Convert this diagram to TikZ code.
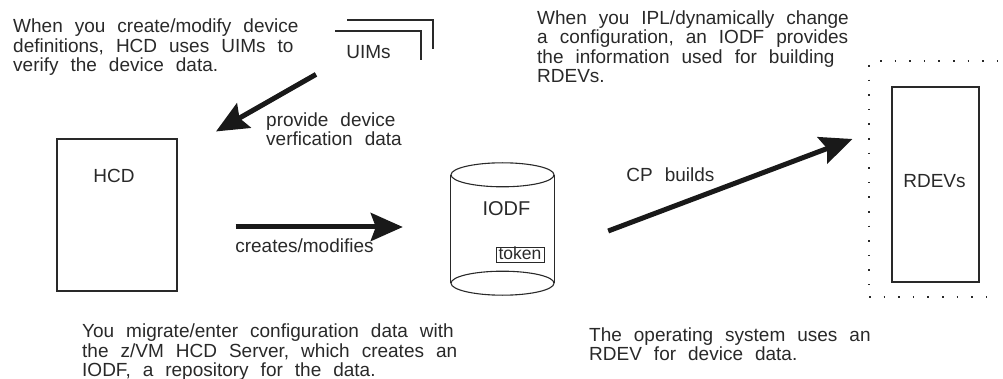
\documentclass[tikz,border=0pt]{standalone}
\usepackage{fontspec}
\setmainfont{Liberation Sans}
\usetikzlibrary{arrows.meta}
\definecolor{inkgray}{gray}{0.16}
\newcommand{\labelfont}{\fontsize{19}{19.4}\selectfont\spaceskip=12pt\relax}
\tikzset{
	box/.style={draw=inkgray, rectangle, line width=1.1pt, inner sep=0pt},
	txt/.style={anchor=base, inner sep=0pt, text=inkgray, font=\labelfont},
	note/.style={anchor=north west, inner sep=0pt, align=left, text=inkgray, font=\labelfont},
	bigarrow/.style={-{Stealth[length=32pt, width=28pt, inset=5pt]}, line width=5pt, draw=black!90, fill=black!90},
	dotline/.style={draw=inkgray, line width=1.6pt, dash pattern=on 1.6pt off 13pt},
}
\begin{document}
\begin{tikzpicture}[x=1pt, y=-1pt]
		\useasboundingbox (0,0) rectangle (1003,379);

		\node[box, minimum width=120pt, minimum height=152pt] (hcd) at (117,215) {};
		\node[box, minimum width=87pt, minimum height=195pt] (rdevs) at (935.5,184.5) {};
		\node[inner sep=0pt, minimum width=103pt, minimum height=108pt] (iodf) at (502.5,229) {};
		\node[box, line width=0.8pt, minimum width=48pt, minimum height=15pt] (token) at (520,254.5) {};

		\draw[draw=inkgray, line width=1.1pt] (iodf.north west) -- (iodf.south west);
		\draw[draw=inkgray, line width=1.1pt] (iodf.north east) -- (iodf.south east);
		\draw[draw=inkgray, line width=1.1pt] (iodf.north) ellipse [x radius=51.5pt, y radius=12pt];
		\draw[draw=inkgray, line width=1.1pt] (iodf.south) ellipse [x radius=51.5pt, y radius=12pt];

		\draw[draw=inkgray, line width=1.1pt] (347,20) -| (433,49);
		\draw[draw=inkgray, line width=1.1pt] (335,31) -| (421,60);

		\draw[dotline] (880,61) -- (999,61);
		\draw[dotline] (869,65) -- (869,285);
		\draw[dotline] (869,297) -- (999,297);

		\node[txt] (hcdlabel) at (114,183) {HCD};
		\node[txt] (uims) at (368.5,59) {UIMs};
		\node[txt, font=\fontsize{20}{22}\selectfont] (iodflabel) at (506.5,216) {IODF};
		\node[txt, font=\fontsize{17.5}{19}\selectfont] (tokenlabel) at (520,259.5) {token};
		\node[txt] (rdevslabel) at (934.5,188) {RDEVs};
		\node[txt] (creates) at (304.5,253) {creates/modifies};
		\node[txt] (cpbuilds) at (670.5,182) {CP builds};

		\node[note] (createnote) at (13,19) {When you create/modify device\\definitions, HCD uses UIMs to\\verify the device data.};
		\node[note] (iplnote) at (537,10.5) {When you IPL/dynamically change\\a configuration, an IODF provides\\the information used for building\\RDEVs.};
		\node[note] (migratenote) at (82,324) {You migrate/enter configuration data with\\the z/VM HCD Server, which creates an\\IODF, a repository for the data.};
		\node[note] (osnote) at (589,327.5) {The operating system uses an\\RDEV for device data.};
		\node[note] (providenote) at (266,112.5) {provide device\\verfication data};

		\coordinate (uimstail) at ([xshift=-52.5pt, yshift=-15pt]uims.south);
		\coordinate (uimshead) at ([xshift=99pt, yshift=7pt]hcd.north);
		\coordinate (hcdtail) at ([xshift=58pt, yshift=-12pt]hcd.east);
		\coordinate (iodfhead) at ([xshift=-48pt, yshift=2pt]iodf.west);
		\coordinate (iodftail) at ([xshift=54pt, yshift=-2pt]iodf.east);
		\coordinate (rdevshead) at ([xshift=-39pt, yshift=45.5pt]rdevs.west);

		\draw[bigarrow] (uimstail) -- (uimshead);
		\draw[bigarrow] (hcdtail) -- (iodfhead);
		\draw[bigarrow] (iodftail) -- (rdevshead);
	\end{tikzpicture}
\end{document}
